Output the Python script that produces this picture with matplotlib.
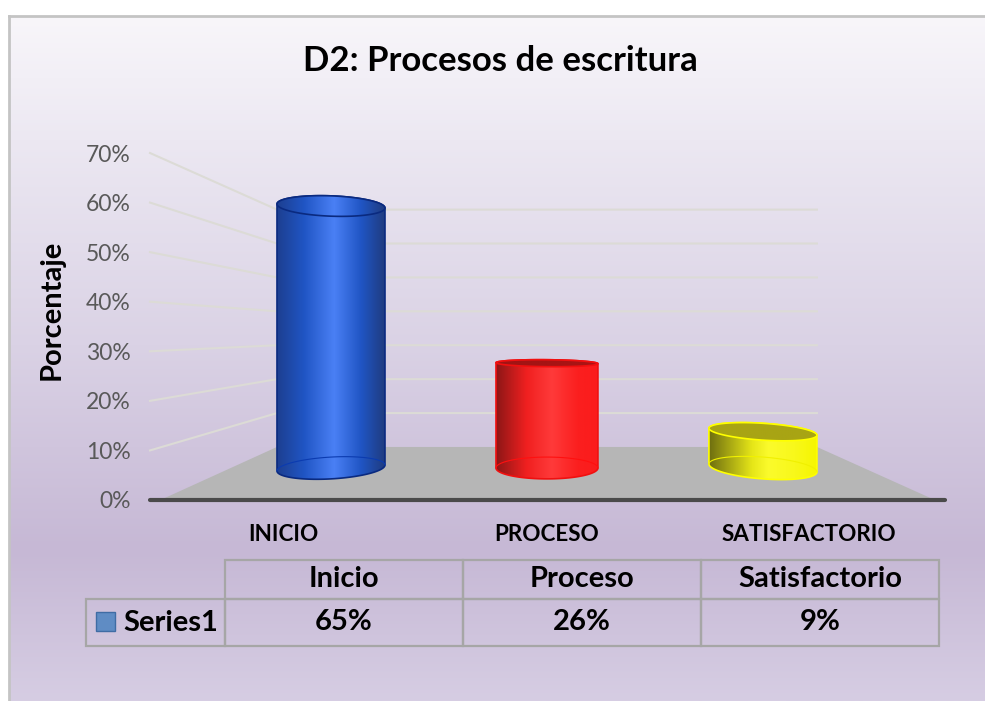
import numpy as np
import matplotlib
matplotlib.use("Agg")
import matplotlib.pyplot as plt
from matplotlib.colors import LinearSegmentedColormap
from matplotlib.patches import Polygon, Rectangle

# ========== Data ==========
title = "D2: Procesos de escritura"
y_label = "Porcentaje"
axis_labels = ["INICIO", "PROCESO", "SATISFACTORIO"]
table_labels = ["Inicio", "Proceso", "Satisfactorio"]
series_name = "Series1"
values = [65, 26, 9]
y_ticks = [0, 10, 20, 30, 40, 50, 60, 70]

W, H = 985, 701
plt.rcParams["font.family"] = ["Lato", "DejaVu Sans"]


def px_rect(left, top, right, bottom):
    """Axes rectangle from pixel edges, origin at the top left"""
    return [left / W, 1 - bottom / H, (right - left) / W, (bottom - top) / H]


def cmap(stops):
    return LinearSegmentedColormap.from_list("c", stops, N=256)


fig = plt.figure(figsize=(W / 100, H / 100), dpi=100, facecolor="white")

# ---- Background ----
bg = fig.add_axes(px_rect(9, 16, W, H))
bg.axis("off")
bg_cmap = cmap([(0, "#f8f6fa"), (0.18, "#ece8f2"), (0.48, "#dad2e5"),
                (0.78, "#c6b8d5"), (1, "#d6cde3")])
bg.imshow(np.linspace(0, 1, 256)[:, None], aspect="auto", cmap=bg_cmap)
fig.add_artist(plt.Line2D([9 / W, 9 / W], [0, 1 - 16 / H], color="#c4c4c4", lw=2))
fig.add_artist(plt.Line2D([9 / W, 1], [1 - 16 / H, 1 - 16 / H], color="#c4c4c4", lw=2))

# ---- Plot area: x in category units, y in percent on the front edge ----
ax = fig.add_axes(px_rect(150, 153, 945, 500))
ax.patch.set_alpha(0)
x_left, x_right = -0.838, 2.843
wall_left, wall_right = -0.25, 2.25
floor_left, floor_right = -0.79, 2.796
back_offset, back_scale = 10.7, 0.684
bar_base, bar_scale = 6.46, 0.813
base_ry = 2.2

# side wall and back wall gridlines
for v in y_ticks[1:]:
    back_y = back_offset + back_scale * v
    ax.plot([x_left, wall_left, wall_right], [v, back_y, back_y],
            color="#dcdbd6", lw=1.5, zorder=1, clip_on=False)

# floor
ax.add_patch(Polygon([(floor_left, 0), (wall_left, back_offset),
                      (wall_right, back_offset), (floor_right, 0)],
                     closed=True, fc="#b6b6b6", ec="none", zorder=2))
ax.plot([x_left, x_right], [0, 0], color="#4a4a4a", lw=3,
        solid_capstyle="round", zorder=3, clip_on=False)


def ring(cx, cy, rx, ry, tilt, t):
    return (cx + rx * np.cos(t), cy + ry * np.sin(t) - tilt * np.cos(t))


def gradient(poly, x0, rx, y0, y1, stops, z):
    im = ax.imshow(np.linspace(0, 1, 256)[None, :], aspect="auto", cmap=cmap(stops),
                   extent=[x0 - rx, x0 + rx, y0, y1], zorder=z)
    ax.add_patch(poly)
    im.set_clip_path(poly)


def cylinder(cx, value, rx, top_ry, top_tilt, base_tilt, body, top_stops, edge, base_edge):
    top_y = bar_base + bar_scale * value
    t_all = np.linspace(0, 2 * np.pi, 200)
    t_low = np.linspace(np.pi, 2 * np.pi, 100)
    t_up = np.linspace(0, np.pi, 100)
    low_x, low_y = ring(cx, bar_base, rx, base_ry, base_tilt, t_low)
    up_x, up_y = ring(cx, top_y, rx, top_ry, top_tilt, t_up)
    low, high = bar_base - 2 * base_ry, top_y + 2 * base_ry

    side = Polygon(np.c_[np.r_[low_x, up_x], np.r_[low_y, up_y]], closed=True,
                   fc="none", ec=edge, lw=1.2, zorder=6)
    gradient(side, cx, rx, low, high, body, 5)
    top = Polygon(np.c_[ring(cx, top_y, rx, top_ry, top_tilt, t_all)], closed=True,
                  fc="none", ec=edge, lw=1.2, zorder=8)
    gradient(top, cx, rx, low, high, top_stops, 7)
    ax.plot(*ring(cx, bar_base, rx, base_ry, base_tilt, t_up), color=base_edge, lw=0.8, zorder=6)


blue_body = [(0, "#1d3f90"), (0.25, "#2055c4"), (0.53, "#4a80f5"),
             (0.78, "#2055c4"), (1, "#1f3c80")]
red_body = [(0, "#8c1616"), (0.3, "#f02020"), (0.55, "#ff3a3a"),
            (0.8, "#fb1f1f"), (1, "#fb1c1c")]
yellow_body = [(0, "#6e6e10"), (0.4, "#e6e618"), (0.55, "#fbfb2c"),
               (0.8, "#f8f81a"), (1, "#f6f600")]

cylinder(0, values[0], 0.25, 2.05, 0.4, -0.6, blue_body, blue_body, "#0a2a80", "#0b3bb0")
cylinder(1, values[1], 0.236, 0.7, 0.1, 0.0, red_body,
         [(0, "#a01414"), (1, "#ac1414")], "#f01010", "#ff1010")
cylinder(2, values[2], 0.25, 1.7, 0.7, 0.8, yellow_body,
         [(0, "#a8a414"), (1, "#a8a414")], "#ffff00", "#f0f000")

ax.set_xlim(x_left, x_right)
ax.set_ylim(0, 70)
for s in ax.spines.values():
    s.set_visible(False)
ax.set_yticks(y_ticks)
ax.set_yticklabels([f"{v}%" for v in y_ticks], fontsize=16.5, color="#595959")
ax.tick_params(axis="y", length=0, pad=14)
ax.set_xticks([-0.222, 1.0, 2.213])
ax.set_xticklabels(axis_labels, fontsize=16.2, fontweight="bold", color="black")
ax.tick_params(axis="x", length=0, pad=17)
ax.set_ylabel(y_label, fontsize=21, fontweight="bold", color="black")
ax.yaxis.set_label_coords(-0.108, 0.548)

fig.text(500 / W, 1 - 61 / H, title, fontsize=25, fontweight="bold",
         ha="center", va="center", color="black")

# ---- Data table ----
tb = fig.add_axes(px_rect(86, 560, 939, 646))
tb.axis("off")
tb.set_xlim(0, 1)
tb.set_ylim(0, 1)
col_w = [139, 238, 238, 238]
table = tb.table(cellText=[[""] + table_labels, [""] + [f"{v}%" for v in values]],
                 colWidths=col_w, cellLoc="center", bbox=[0, 0, 1, 1])
table.auto_set_font_size(False)
for (r, c), cell in table.get_celld().items():
    cell.set_height(38.5 if r == 0 else 47.5)
    cell.set_facecolor("none")
    cell.set_edgecolor("#a6a6a6")
    cell.set_linewidth(1.6)
    cell.get_text().set_fontsize(21)
    cell.get_text().set_fontweight("bold")
table[(0, 0)].visible_edges = ""
tb.add_patch(Rectangle((10 / 853, 0.17), 19 / 853, 19 / 86, fc="#5f8cc4", ec="#3f6ca4",
                       lw=1, clip_on=False))
tb.text(37 / 853, 0.27, series_name, fontsize=21, fontweight="bold",
        ha="left", va="center", color="black")

fig.savefig("out.png", dpi=100)
